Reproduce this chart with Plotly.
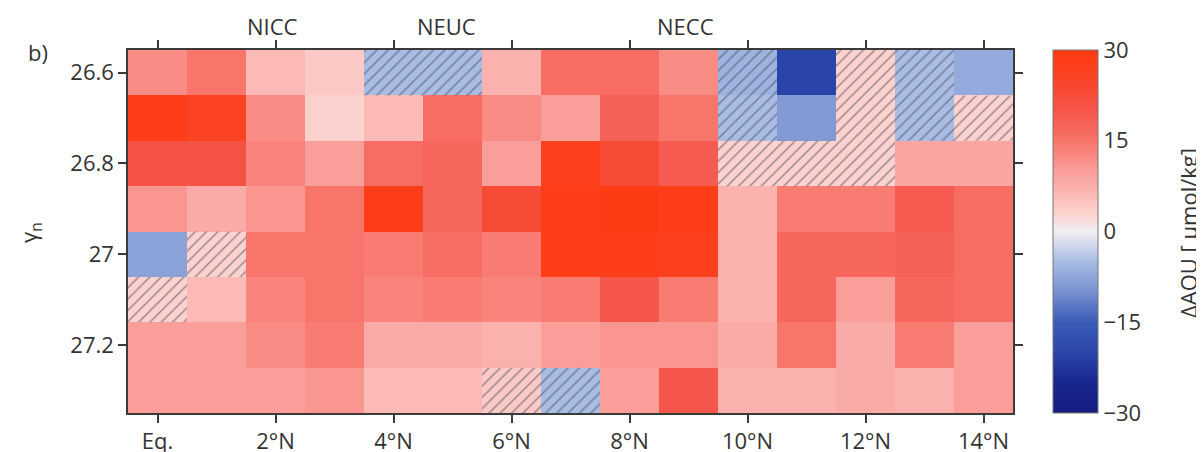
import plotly.graph_objects as go

# ---------------- data ----------------
lat = list(range(15))                      # 0..14 deg N
lat_ticks = [0, 2, 4, 6, 8, 10, 12, 14]
lat_labels = ["Eq.", "2°N", "4°N", "6°N", "8°N", "10°N", "12°N", "14°N"]
gamma = [26.6, 26.7, 26.8, 26.9, 27.0, 27.1, 27.2, 27.3]
gamma_ticks = [26.6, 26.8, 27.0, 27.2]
gamma_labels = ["26.6", "26.8", "27", "27.2"]

aou_266 = [12, 15, 6, 4, -5, -5, 7, 16, 16, 12, -6, -20, 3, -5, -7]
aou_267 = [28, 26, 12, 3, 6, 16, 12, 10, 18, 15, -5, -9, 3, -5, 3]
aou_268 = [21, 21, 13, 10, 16, 17, 10, 27, 23, 19, 3, 3, 3, 9, 9]
aou_269 = [11, 8, 11, 15, 28, 17, 23, 28, 29, 28, 7, 14, 14, 19, 16]
aou_270 = [-8, 3, 15, 15, 14, 16, 14, 28, 28, 27, 7, 17, 17, 18, 16]
aou_271 = [3, 6, 13, 15, 13, 14, 13, 14, 20, 14, 7, 17, 10, 17, 16]
aou_272 = [10, 10, 12, 14, 8, 8, 7, 10, 11, 11, 8, 15, 8, 14, 10]
aou_273 = [10, 10, 10, 11, 6, 6, 4, -5, 10, 20, 7, 7, 8, 7, 10]

# not-significant (hatched) flags per row
hatch_266 = [0, 0, 0, 0, 1, 1, 0, 0, 0, 0, 1, 0, 1, 1, 0]
hatch_267 = [0, 0, 0, 0, 0, 0, 0, 0, 0, 0, 1, 0, 1, 1, 1]
hatch_268 = [0, 0, 0, 0, 0, 0, 0, 0, 0, 0, 1, 1, 1, 0, 0]
hatch_269 = [0] * 15
hatch_270 = [0, 1, 0, 0, 0, 0, 0, 0, 0, 0, 0, 0, 0, 0, 0]
hatch_271 = [1, 0, 0, 0, 0, 0, 0, 0, 0, 0, 0, 0, 0, 0, 0]
hatch_272 = [0] * 15
hatch_273 = [0, 0, 0, 0, 0, 0, 1, 1, 0, 0, 0, 0, 0, 0, 0]

currents = ["NICC", "NEUC", "NECC"]
current_lat = [1.95, 4.9, 8.95]

cb_ticks = [30, 15, 0, -15, -30]
cb_labels = ["30", "15", "0", "−15", "−30"]

z = [aou_266, aou_267, aou_268, aou_269, aou_270, aou_271, aou_272, aou_273]
hatch = [hatch_266, hatch_267, hatch_268, hatch_269, hatch_270, hatch_271, hatch_272, hatch_273]

colorscale = [
    [0.0, "#141c80"],
    [0.083, "#1a2690"],
    [0.167, "#2a45aa"],
    [0.25, "#3a5cb8"],
    [0.333, "#7890d0"],
    [0.417, "#a8bce4"],
    [0.5, "#f2eef2"],
    [0.55, "#fcd2ce"],
    [0.617, "#fbb2ae"],
    [0.667, "#fa9e9a"],
    [0.733, "#f87c72"],
    [0.783, "#f7665c"],
    [0.833, "#f5564c"],
    [0.917, "#fa4426"],
    [1.0, "#ff3a10"],
]

FONT = "Open Sans"
FS = 22
AX = "#3a3a3a"

# page offset of the figure (default body margin) and target pixel geometry
OFF = 8
W, H = 1204 - OFF, 452 - OFF
L, R, T, B = 128 - OFF, 191, 50 - OFF, 39
pw, ph = W - L - R, H - T - B


def px_x(p):
    return (p - OFF - L) / pw


def px_y(p):
    return (H - B - (p - OFF)) / ph


fig = go.Figure()
fig.add_trace(go.Heatmap(
    x=lat, y=gamma, z=z, zmin=-30, zmax=30, colorscale=colorscale,
    colorbar=dict(
        x=px_x(1053), xanchor="left", xpad=0, y=0.5, yanchor="middle",
        len=1.0, lenmode="fraction", ypad=0,
        thickness=45, outlinecolor="#777", outlinewidth=1,
        tickvals=cb_ticks, ticktext=cb_labels, ticks="", ticklen=2,
        tickfont=dict(family=FONT, size=FS, color="#333"),
    ),
    hoverinfo="skip",
))

# hatching for non-significant cells
hx, hb = [], []
for i, g in enumerate(gamma):
    for j, la in enumerate(lat):
        if hatch[i][j]:
            hx.append(la)
            hb.append(g - 0.05)
fig.add_trace(go.Bar(
    x=hx, y=[0.1] * len(hx), base=hb, width=1.0,
    marker=dict(color="rgba(0,0,0,0)", line=dict(width=0),
                pattern=dict(shape="/", fgcolor="#4a4a5a", bgcolor="rgba(0,0,0,0)",
                             size=8, solidity=0.2, fillmode="overlay")),
    showlegend=False, hoverinfo="skip",
))

fig.update_layout(
    width=W, height=H,
    margin=dict(l=L, r=R, t=T, b=B, autoexpand=False),
    paper_bgcolor="white", plot_bgcolor="white",
    barmode="overlay",
    font=dict(family=FONT, size=FS, color="#333"),
    xaxis=dict(range=[-0.5, 14.5], tickvals=lat_ticks, ticktext=lat_labels,
               ticks="outside", ticklen=8, tickwidth=1.5, tickcolor=AX,
               showline=True, linecolor=AX, linewidth=1.5, mirror="ticks",
               showgrid=False, zeroline=False, automargin=False,
               tickfont=dict(family=FONT, size=FS, color="#333")),
    yaxis=dict(range=[27.35, 26.55], tickvals=gamma_ticks, ticktext=gamma_labels,
               ticks="outside", ticklen=8, tickwidth=1.5, tickcolor=AX,
               showline=True, linecolor=AX, linewidth=1.5, mirror="ticks",
               showgrid=False, zeroline=False, automargin=False,
               tickfont=dict(family=FONT, size=FS, color="#333")),
)

for name, la in zip(currents, current_lat):
    fig.add_annotation(x=la, y=px_y(26), xref="x", yref="paper",
                       text=name, showarrow=False, xanchor="center", yanchor="middle",
                       font=dict(family=FONT, size=FS, color="#333"))
fig.add_annotation(x=px_x(38), y=px_y(52), xref="paper", yref="paper", text="b)",
                   showarrow=False, xanchor="center", yanchor="middle",
                   font=dict(family=FONT, size=FS, color="#333"))
fig.add_annotation(x=px_x(30), y=px_y(233), xref="paper", yref="paper",
                   text="γ<sub>n</sub>", textangle=-90, showarrow=False,
                   xanchor="center", yanchor="middle",
                   font=dict(family=FONT, size=FS, color="#333"))
fig.add_annotation(x=px_x(1188), y=px_y(233), xref="paper", yref="paper",
                   text="ΔAOU [ μmol/kg]", textangle=-90, showarrow=False,
                   xanchor="center", yanchor="middle",
                   font=dict(family=FONT, size=FS, color="#333"))

fig.write_html("out.html")
